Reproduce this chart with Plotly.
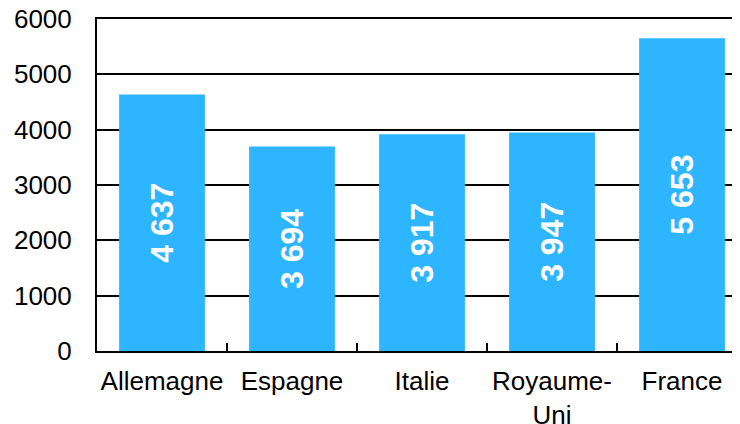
import plotly.graph_objects as go

categories = ["Allemagne", "Espagne", "Italie", "Royaume-<br>Uni", "France"]
values = [4637, 3694, 3917, 3947, 5653]
labels = [f"{v:,}".replace(",", " ") for v in values]
y_ticks = [0, 1000, 2000, 3000, 4000, 5000, 6000]

FONT = "Liberation Sans, Arial, sans-serif"

fig = go.Figure(go.Bar(
    x=categories,
    y=values,
    text=labels,
    textposition="inside",
    insidetextanchor="middle",
    textangle=-90,
    constraintext="none",
    textfont=dict(family=FONT, size=32, color="white", weight="bold"),
    marker=dict(color="#2DB5FF", line=dict(width=0)),
    width=0.66,
))

fig.update_layout(
    width=732, height=416,
    margin=dict(l=89, r=0, t=11, b=73, autoexpand=False),
    plot_bgcolor="white", paper_bgcolor="white",
    showlegend=False,
    font=dict(family=FONT, size=26, color="black"),
)
fig.update_xaxes(
    type="category",
    range=[-0.5, 4.446],
    showline=True, linecolor="black", linewidth=2, mirror=True,
    ticks="inside", tickson="boundaries", ticklen=8, tickwidth=2, tickcolor="black",
    showgrid=False,
    tickangle=0,
    ticklabeloverflow="allow",
    tickfont=dict(family=FONT, size=26, color="black"),
    ticklabelstandoff=6,
)
fig.update_yaxes(
    range=[0, 6000],
    tickvals=y_ticks,
    ticktext=[str(v) for v in y_ticks],
    showline=True, linecolor="black", linewidth=2,
    showgrid=True, gridcolor="black", gridwidth=2,
    zeroline=False,
    ticks="",
    ticklabeloverflow="allow",
    tickfont=dict(family=FONT, size=26, color="black"),
    ticklabelstandoff=18,
)

fig.write_html("out.html")
